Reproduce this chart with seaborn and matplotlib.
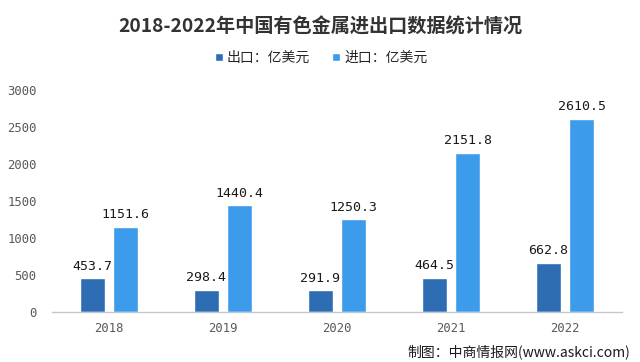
import matplotlib
matplotlib.use("Agg")
import matplotlib.pyplot as plt
import seaborn as sns
import pandas as pd

years = ["2018", "2019", "2020", "2021", "2022"]
export_vals = [453.7, 298.4, 291.9, 464.5, 662.8]
import_vals = [1151.6, 1440.4, 1250.3, 2151.8, 2610.5]
series_names = ["出口：亿美元", "进口：亿美元"]
title = "2018-2022年中国有色金属进出口数据统计情况"
source = "制图：中商情报网(www.askci.com)"

sns.set_theme(style="white")
plt.rcParams['font.family'] = ['Noto Sans CJK SC', 'DejaVu Sans']

df = pd.DataFrame({
    "year": years * 2,
    "value": export_vals + import_vals,
    "series": [series_names[0]] * len(years) + [series_names[1]] * len(years),
})

colors = ["#2E6DB4", "#3C9BEA"]

fig = plt.figure(figsize=(6.4, 3.62), dpi=100)
ax = fig.add_axes([52 / 640, 50 / 362, 570 / 640, 222 / 362])

sns.barplot(data=df, x="year", y="value", hue="series", palette=colors,
            width=0.58, gap=0.24, ax=ax, saturation=1, legend=True)

ax.set_ylim(0, 3000)
ax.set_yticks([0, 500, 1000, 1500, 2000, 2500, 3000])
ax.set_xlabel("")
ax.set_ylabel("")
for s in ["top", "right", "left"]:
    ax.spines[s].set_visible(False)
ax.spines["bottom"].set_color("#BFC9D6")
ax.spines["bottom"].set_linewidth(1.0)
ax.tick_params(axis="both", length=0, colors="#595959")
ax.tick_params(axis="y", pad=11)
ax.tick_params(axis="x", pad=7)
for lab in ax.get_xticklabels() + ax.get_yticklabels():
    lab.set_fontfamily("DejaVu Sans Mono")
    lab.set_fontsize(8.8)
    lab.set_color("#595959")

for cont in ax.containers:
    ax.bar_label(cont, fmt="%.1f", padding=4, fontsize=9.5,
                 family="DejaVu Sans Mono", color="#1a1a1a")

handles, labels = ax.get_legend_handles_labels()
ax.get_legend().remove()
fig.legend(handles, labels, loc="center", bbox_to_anchor=(0.502, 1 - 58 / 362),
           ncol=2, frameon=False, fontsize=10, handlelength=0.55, handleheight=0.55,
           handletextpad=0.3, columnspacing=1.6)

fig.text(0.5, 1 - 27 / 362, title, ha="center", va="center", fontsize=13.8,
         fontweight="bold", color="#333333")
fig.text(630 / 640, 1 - 352 / 362, source, ha="right", va="center", fontsize=10,
         color="#1a1a1a")

fig.savefig("out.png", dpi=100)
